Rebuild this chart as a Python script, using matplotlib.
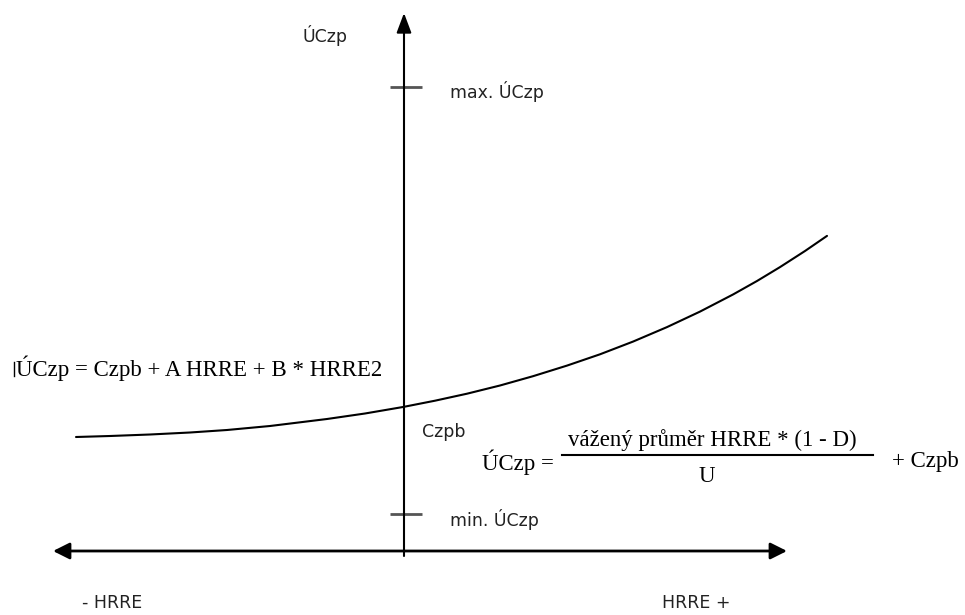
import matplotlib
matplotlib.use("Agg")
import matplotlib.pyplot as plt

# Curve (pixel coords: x right, y down)
curve_x = [76, 110, 150, 190, 227, 270, 327, 365, 403, 435, 467, 500,
           533, 567, 600, 633, 667, 700, 733, 757, 780, 805, 827]
curve_y = [437, 436, 434.5, 432.5, 430, 426, 419, 413.5, 407, 400.7, 393.7, 385.5,
           376.2, 365.6, 354.3, 341.6, 327.1, 311.6, 294.5, 281, 267.1, 251, 235.9]

axis_labels = ["ÚCzp", "- HRRE", "HRRE +"]
tick_labels = ["max. ÚCzp", "min. ÚCzp"]
tick_y = [87, 514]
origin_label = "Czpb"
formula_left = "ÚCzp = Czpb + A HRRE + B * HRRE2"
formula_num = "vážený průměr HRRE * (1 - D)"
formula_den = "U"

fig = plt.figure(figsize=(9.65, 6.15), dpi=100)
ax = fig.add_axes([0, 0, 1, 1])
ax.set_xlim(0, 965)
ax.set_ylim(615, 0)
ax.axis("off")

sans = "DejaVu Sans"
serif = "Liberation Serif"
sfs = 12.5
tc = "#222222"

# vertical axis with arrow
ax.annotate("", xy=(404, 13), xytext=(404, 556),
            arrowprops=dict(arrowstyle="-|>,head_length=1.2,head_width=0.45",
                            color="black", lw=1.5, shrinkA=0, shrinkB=0))
# horizontal axis with two arrows
ax.annotate("", xy=(53, 551), xytext=(787, 551),
            arrowprops=dict(arrowstyle="<|-|>,head_length=1.0,head_width=0.5",
                            color="black", lw=2, shrinkA=0, shrinkB=0))

# ticks
for ty, lab in zip(tick_y, tick_labels):
    ax.plot([390, 422], [ty, ty], color="#555555", lw=2, solid_capstyle="butt")
    ax.text(450, ty + 5, lab, fontsize=sfs, family=sans, va="center", ha="left",
            color=tc)

# curve
ax.plot(curve_x, curve_y, color="black", lw=1.5, solid_joinstyle="round",
        solid_capstyle="round")

# axis labels
ax.text(302, 35, axis_labels[0], fontsize=sfs, family=sans, va="center", ha="left",
        color=tc)
ax.text(82, 603, axis_labels[1], fontsize=sfs, family=sans, va="center", ha="left",
        color=tc)
ax.text(662, 603, axis_labels[2], fontsize=sfs, family=sans, va="center", ha="left",
        color=tc)
ax.text(422, 432, origin_label, fontsize=sfs, family=sans, va="center", ha="left",
        color=tc)

# left formula
ax.plot([14, 14], [362, 376], color="black", lw=1)
ax.text(16, 368, formula_left, fontsize=16.5, family=serif, va="center", ha="left")

# right formula
ax.text(482, 462, "ÚCzp =", fontsize=16.5, family=serif, va="center", ha="left")
ax.plot([562, 873], [455, 455], color="black", lw=1.5)
ax.text(712, 440, formula_num, fontsize=16.5, family=serif, va="center", ha="center")
ax.text(707, 476, formula_den, fontsize=16.5, family=serif, va="center", ha="center")
ax.text(892, 461, "+ Czpb", fontsize=16.5, family=serif, va="center", ha="left")

fig.savefig("out.png", dpi=100)
